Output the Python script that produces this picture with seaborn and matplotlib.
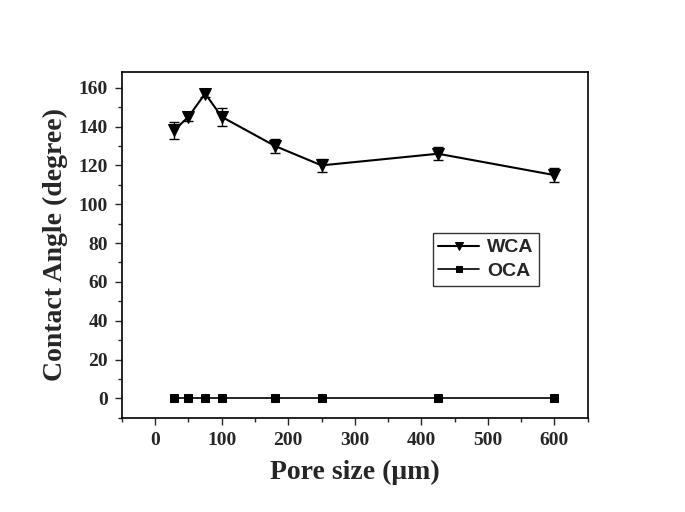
import seaborn as sns
import matplotlib.pyplot as plt
import pandas as pd
from matplotlib.ticker import MultipleLocator

pore_size = [28, 50, 75, 100, 180, 250, 425, 600]
wca = [138, 145, 157, 145, 130, 120, 126, 115]
wca_err = [4.5, 2, 2, 4.5, 3.5, 3.5, 3.3, 3.8]
oca = [0, 0, 0, 0, 0, 0, 0, 0]

df = pd.DataFrame({'pore': pore_size, 'WCA': wca, 'OCA': oca})

sns.set_style('ticks')
plt.rcParams['font.family'] = ['Liberation Serif', 'DejaVu Serif']

fig = plt.figure(figsize=(6.85, 5.12), dpi=100)
ax = fig.add_axes([0.178, 0.184, 0.680, 0.675])

ax.errorbar(pore_size, wca, yerr=wca_err, fmt='none', ecolor='black',
            elinewidth=1, capsize=3.5, capthick=1)
sns.lineplot(x='pore', y='WCA', data=df, ax=ax, color='black', marker='v',
             markersize=9, markeredgecolor='black', linewidth=1.5, label='WCA')
sns.lineplot(x='pore', y='OCA', data=df, ax=ax, color='black', marker='s',
             markersize=6, markeredgecolor='black', linewidth=1.2, label='OCA')

ax.set_xlim(-50, 650)
ax.set_ylim(-10, 168)
ax.xaxis.set_major_locator(MultipleLocator(100))
ax.xaxis.set_minor_locator(MultipleLocator(50))
ax.yaxis.set_major_locator(MultipleLocator(20))
ax.yaxis.set_minor_locator(MultipleLocator(10))
ax.tick_params(which='major', direction='out', length=5, width=1, labelsize=14, pad=5)
ax.tick_params(which='minor', direction='out', length=3, width=1)
for lbl in ax.get_xticklabels() + ax.get_yticklabels():
    lbl.set_fontweight('bold')
for s in ax.spines.values():
    s.set_linewidth(1.2)
    s.set_color('black')

ax.set_xlabel('Pore size (\u03bcm)', fontsize=20, fontweight='bold', labelpad=8)
ax.set_ylabel('Contact Angle (degree)', fontsize=20, fontweight='bold', labelpad=8)

leg = ax.legend(loc='upper left', bbox_to_anchor=(0.667, 0.535), frameon=True,
                fancybox=False, edgecolor='black', handlelength=2.1,
                handletextpad=0.4, markerscale=0.7,
                prop={'family': 'Liberation Sans', 'weight': 'bold', 'size': 14},
                borderpad=0.3, labelspacing=0.3, borderaxespad=0)
leg.get_frame().set_linewidth(1)

fig.savefig('out.png', dpi=100)
